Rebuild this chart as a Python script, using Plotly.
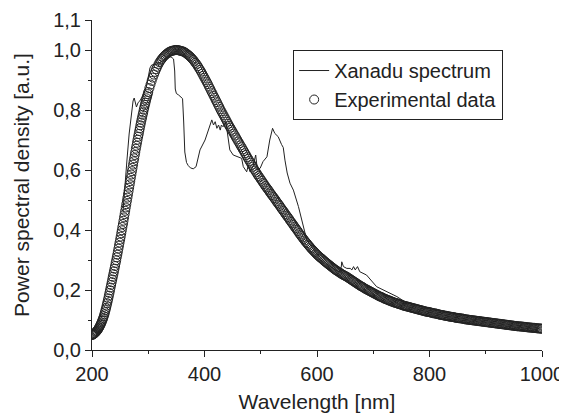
import plotly.graph_objects as go

# experimental data: 1 nm steps up to 300 nm, 2 nm steps after that
exp_wavelength = list(range(200, 301)) + list(range(302, 1001, 2))
exp_psd = [
    # 200 - 300 nm
    0.050, 0.051, 0.052, 0.053, 0.055, 0.056, 0.058, 0.060, 0.062, 0.064,
    0.067, 0.070, 0.073, 0.076, 0.080, 0.084, 0.088, 0.092, 0.097, 0.102,
    0.107, 0.113, 0.119, 0.126, 0.133, 0.140, 0.148, 0.156, 0.164, 0.172,
    0.181, 0.190, 0.199, 0.208, 0.217, 0.226, 0.235, 0.244, 0.253, 0.262,
    0.271, 0.280, 0.290, 0.299, 0.309, 0.318, 0.328, 0.338, 0.348, 0.358,
    0.368, 0.378, 0.389, 0.399, 0.410, 0.420, 0.431, 0.442, 0.453, 0.464,
    0.475, 0.486, 0.497, 0.508, 0.519, 0.530, 0.541, 0.552, 0.563, 0.574,
    0.585, 0.596, 0.607, 0.618, 0.629, 0.639, 0.650, 0.660, 0.671, 0.681,
    0.691, 0.701, 0.711, 0.720, 0.730, 0.739, 0.749, 0.758, 0.767, 0.775,
    0.784, 0.792, 0.801, 0.809, 0.817, 0.824, 0.832, 0.839, 0.846, 0.853,
    0.860,
    # 302 - 360 nm
    0.873, 0.885, 0.897, 0.908, 0.918, 0.927, 0.936, 0.944, 0.952, 0.959,
    0.965, 0.970, 0.975, 0.979, 0.983, 0.986, 0.989, 0.992, 0.994, 0.996,
    0.997, 0.998, 0.999, 1.000, 1.000, 1.000, 0.999, 0.998, 0.997, 0.996,
    # 362 - 1000 nm
    0.995,
    0.993, 0.991, 0.988, 0.985, 0.982, 0.979, 0.975, 0.971, 0.967, 0.962,
    0.957, 0.952, 0.946, 0.940, 0.934, 0.928, 0.921, 0.914, 0.907, 0.900,
    0.893, 0.886, 0.878, 0.871, 0.863, 0.856, 0.848, 0.841, 0.833, 0.826,
    0.818, 0.811, 0.803, 0.796, 0.789, 0.782, 0.775, 0.768, 0.761, 0.754,
    0.747, 0.741, 0.734, 0.728, 0.721, 0.715, 0.708, 0.702, 0.695, 0.689,
    0.682, 0.676, 0.669, 0.663, 0.656, 0.650, 0.643, 0.637, 0.630, 0.624,
    0.617, 0.611, 0.604, 0.598, 0.592, 0.586, 0.580, 0.575, 0.569, 0.564,
    0.558, 0.553, 0.547, 0.542, 0.537, 0.532, 0.526, 0.521, 0.516, 0.511,
    0.506, 0.501, 0.495, 0.490, 0.485, 0.480, 0.474, 0.469, 0.464, 0.459,
    0.453, 0.448, 0.443, 0.438, 0.432, 0.427, 0.422, 0.417, 0.411, 0.406,
    0.401, 0.396, 0.390, 0.385, 0.380, 0.375, 0.370, 0.365, 0.360, 0.356,
    0.351, 0.347, 0.342, 0.338, 0.334, 0.330, 0.326, 0.322, 0.318, 0.315,
    0.311, 0.308, 0.305, 0.302, 0.298, 0.295, 0.292, 0.289, 0.286, 0.283,
    0.280, 0.277, 0.274, 0.271, 0.268, 0.266, 0.263, 0.261, 0.258, 0.256,
    0.253, 0.251, 0.249, 0.247, 0.245, 0.243, 0.240, 0.238, 0.235, 0.233,
    0.230, 0.228, 0.225, 0.223, 0.220, 0.218, 0.215, 0.213, 0.211, 0.209,
    0.206, 0.204, 0.202, 0.200, 0.198, 0.196, 0.194, 0.192, 0.190, 0.188,
    0.186, 0.184, 0.182, 0.180, 0.178, 0.177, 0.175, 0.173, 0.171, 0.170,
    0.168, 0.167, 0.165, 0.164, 0.162, 0.161, 0.159, 0.158, 0.157, 0.156,
    0.154, 0.153, 0.152, 0.151, 0.149, 0.148, 0.147, 0.146, 0.145, 0.144,
    0.143, 0.142, 0.141, 0.140, 0.139, 0.138, 0.137, 0.136, 0.135, 0.134,
    0.133, 0.132, 0.131, 0.130, 0.129, 0.128, 0.127, 0.127, 0.126, 0.125,
    0.124, 0.123, 0.122, 0.122, 0.121, 0.120, 0.119, 0.118, 0.117, 0.117,
    0.116, 0.115, 0.114, 0.114, 0.113, 0.112, 0.111, 0.111, 0.110, 0.110,
    0.109, 0.108, 0.107, 0.107, 0.106, 0.106, 0.105, 0.105, 0.104, 0.103,
    0.102, 0.102, 0.101, 0.101, 0.100, 0.100, 0.099, 0.099, 0.098, 0.098,
    0.097, 0.097, 0.096, 0.096, 0.095, 0.095, 0.094, 0.094, 0.093, 0.093,
    0.092, 0.092, 0.091, 0.091, 0.090, 0.090, 0.089, 0.089, 0.088, 0.088,
    0.087, 0.087, 0.086, 0.086, 0.085, 0.085, 0.084, 0.084, 0.083, 0.083,
    0.082, 0.082, 0.081, 0.081, 0.080, 0.080, 0.079, 0.079, 0.079, 0.078,
    0.078, 0.078, 0.077, 0.077, 0.076, 0.076, 0.075, 0.075, 0.075, 0.074,
    0.074, 0.074, 0.073, 0.073, 0.072, 0.072, 0.072, 0.071, 0.071,
]
assert len(exp_wavelength) == len(exp_psd)

# Xanadu spectrum (thin line)
xan_wavelength = [
    255, 258, 262, 266, 270, 273, 275, 277, 279, 282, 285, 288, 292, 297, 301,
    303, 306, 312, 318, 325, 332, 338, 342, 345, 347, 348, 350, 354, 358, 361,
    363, 365, 368, 371, 375, 380, 385, 392, 401, 407, 413, 416, 419, 422, 425,
    428, 430, 433, 438, 440, 445, 451, 460, 466, 469, 472, 475, 478, 481, 486,
    491, 494, 499, 504, 511, 516, 521, 525, 531, 537, 540, 543, 547, 552, 558,
    567, 573, 579, 582, 590, 600, 615, 630, 640, 643, 644, 647, 653, 659, 662,
    665, 668, 672, 676, 688, 706, 724, 742, 756, 760,
]
xan_psd = [
    0.46, 0.55, 0.63, 0.72, 0.79, 0.83, 0.84, 0.82, 0.81, 0.825, 0.83, 0.84, 0.855, 0.88, 0.92,
    0.94, 0.95, 0.952, 0.955, 0.962, 0.975, 0.978, 0.975, 0.97, 0.93, 0.87, 0.855, 0.85, 0.842, 0.838,
    0.76, 0.66, 0.625, 0.615, 0.607, 0.604, 0.611, 0.667, 0.70, 0.733, 0.767, 0.75, 0.761, 0.739, 0.75,
    0.733, 0.75, 0.744, 0.761, 0.733, 0.667, 0.65, 0.644, 0.639, 0.611, 0.60, 0.594, 0.617, 0.594, 0.611,
    0.65, 0.60, 0.606, 0.628, 0.644, 0.70, 0.739, 0.722, 0.711, 0.685, 0.675, 0.633, 0.59, 0.556, 0.533,
    0.478, 0.433, 0.378, 0.365, 0.345, 0.32, 0.29, 0.27, 0.26, 0.275, 0.294, 0.278, 0.272, 0.272, 0.267,
    0.278, 0.267, 0.278, 0.261, 0.25, 0.211, 0.194, 0.178, 0.161, 0.152,
]

x_ticks = [200, 400, 600, 800, 1000]
x_minor = [300, 500, 700, 900]
y_ticks = [0.0, 0.2, 0.4, 0.6, 0.8, 1.0, 1.1]
y_minor = [0.1, 0.3, 0.5, 0.7, 0.9]

ink = '#222222'

fig = go.Figure()

fig.add_trace(go.Scatter(
    x=exp_wavelength, y=exp_psd,
    mode='markers', name='Experimental data',
    marker=dict(symbol='circle-open', size=9, color=ink, line=dict(width=1, color=ink)),
))

fig.add_trace(go.Scatter(
    x=xan_wavelength, y=xan_psd,
    mode='lines', name='Xanadu spectrum',
    line=dict(color=ink, width=1),
))

# the page body adds an 8 px margin, so the figure is 8 px smaller each way
fig.update_layout(
    width=559, height=405,
    margin=dict(l=84, r=25, t=12, b=63),
    paper_bgcolor='white', plot_bgcolor='white',
    font=dict(family='Liberation Sans, Arial, sans-serif', size=20, color=ink),
    separators=',.',
    legend=dict(
        x=0.447, y=0.909, xanchor='left', yanchor='top',
        bordercolor=ink, borderwidth=1, bgcolor='white',
        traceorder='reversed', tracegroupgap=0,
        font=dict(size=20),
    ),
    xaxis=dict(
        range=[200, 1000], tickvals=x_ticks, automargin=False,
        ticks='outside', ticklen=6, tickwidth=1, tickcolor=ink,
        minor=dict(tickvals=x_minor, ticks='outside', ticklen=3, tickcolor=ink),
        showline=True, linecolor=ink, linewidth=1,
        showgrid=False, zeroline=False,
        title=dict(text='Wavelength [nm]', standoff=15, font=dict(size=21)),
    ),
    yaxis=dict(
        range=[0, 1.1], tickvals=y_ticks, tickformat='.1f', automargin=False,
        ticks='outside', ticklen=6, tickwidth=1, tickcolor=ink,
        minor=dict(tickvals=y_minor, ticks='outside', ticklen=3, tickcolor=ink),
        showline=True, linecolor=ink, linewidth=1,
        showgrid=False, zeroline=False,
        title=dict(text='Power spectral density [a.u.]', standoff=17, font=dict(size=21)),
    ),
    # top and right frame with inward ticks
    xaxis2=dict(
        overlaying='x', side='top', anchor='y', range=[200, 1000], automargin=False,
        tickvals=x_ticks + x_minor, ticks='inside', ticklen=5, tickcolor=ink,
        showticklabels=False, showline=True, linecolor=ink, linewidth=1,
        showgrid=False, zeroline=False,
    ),
    yaxis2=dict(
        overlaying='y', side='right', anchor='x', range=[0, 1.1], automargin=False,
        tickvals=y_minor + [0.2, 0.4, 0.6, 0.8, 1.0], ticks='inside', ticklen=5, tickcolor=ink,
        showticklabels=False, showline=True, linecolor=ink, linewidth=1,
        showgrid=False, zeroline=False,
    ),
)

fig.write_html("out.html")
